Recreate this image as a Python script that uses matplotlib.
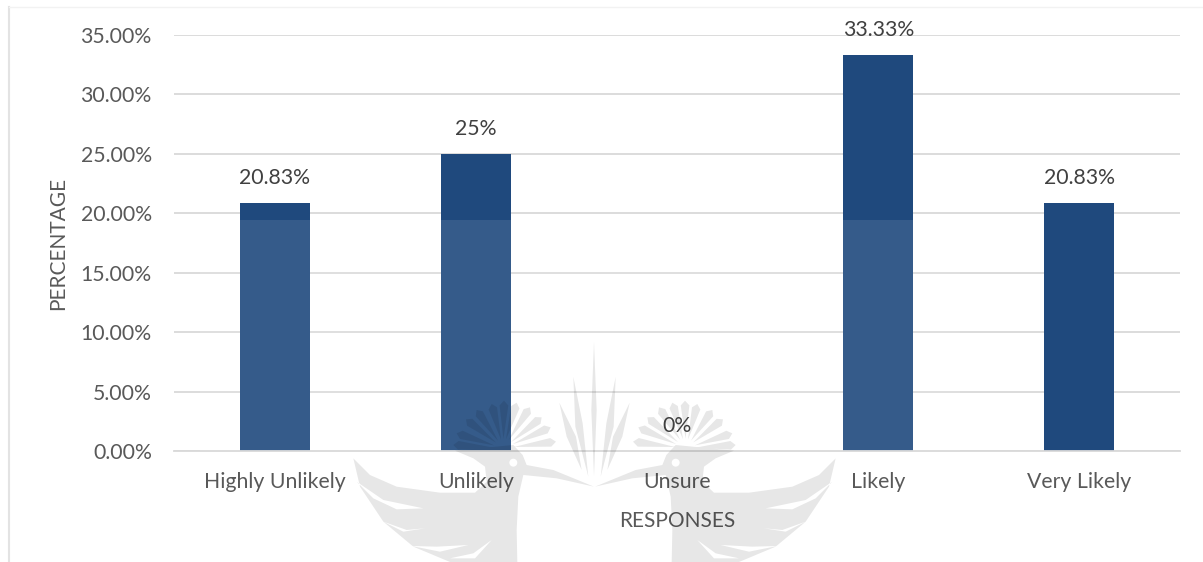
import matplotlib
matplotlib.use('Agg')
import matplotlib.pyplot as plt
from matplotlib.patches import Rectangle, PathPatch
from matplotlib.path import Path
from matplotlib.lines import Line2D
from matplotlib.transforms import Affine2D
import numpy as np

categories = ['Highly Unlikely', 'Unlikely', 'Unsure', 'Likely', 'Very Likely']
values = [20.83, 25, 0, 33.33, 20.83]
value_labels = ['20.83%', '25%', '0%', '33.33%', '20.83%']
y_ticks = [0, 5, 10, 15, 20, 25, 30, 35]

W, H = 1203, 562
plt.rcParams['font.family'] = ['Lato', 'DejaVu Sans']

fig = plt.figure(figsize=(W / 100, H / 100), dpi=100)
ax = fig.add_axes([174 / W, 1 - 451 / H, (1180 - 174) / W, (451 - 35) / H])

ax.bar(categories, values, width=0.348, color='#1f497d', zorder=2)
ax.set_xlim(-0.5, 4.5)
ax.set_ylim(0, 35)
ax.set_yticks(y_ticks)
ax.set_yticklabels(['%.2f%%' % t for t in y_ticks])
ax.grid(axis='y', color='#d9d9d9', lw=1.3, zorder=0)
ax.set_axisbelow(True)
for s in ['top', 'right', 'left']:
    ax.spines[s].set_visible(False)
ax.spines['bottom'].set_color('#d9d9d9')
ax.spines['bottom'].set_linewidth(1.3)
ax.tick_params(axis='both', length=0, labelsize=15.3, labelcolor='#595959')
ax.tick_params(axis='x', pad=15)
ax.tick_params(axis='y', pad=16)
ax.set_xlabel('RESPONSES', fontsize=15, color='#595959', labelpad=13.5)
ax.set_ylabel('PERCENTAGE', fontsize=15, color='#595959', labelpad=9)

for i, v in enumerate(values):
    ax.annotate(value_labels[i], (i, v), xytext=(0, 11), textcoords='offset points',
                ha='center', va='bottom', fontsize=15.3, color='#404040',
                annotation_clip=False, zorder=5)

# everything below is scan residue from the source page, in pixels
px = Affine2D().scale(1, -1).translate(0, H)

# paler band across the lower part of the bars
band = Rectangle((200, 220), 760, 231, fc='white', ec='none', alpha=0.1, zorder=3,
                 transform=px, clip_on=False)
ax.add_artist(band)

# frame of the chart object
fig.add_artist(Line2D([8.5, 8.5], [7, 562], transform=px, color='#e3e3e3', lw=1.5))
fig.add_artist(Line2D([8.5, 1203], [7, 7], transform=px, color='#f2f2f2', lw=1))

# watermark: two birds mirrored about the page centre
CX = 594.5
verts, codes = [], []

def add_poly(points, hole=False, mirror=True):
    pts = np.array([(340 + x / 3, 330 + y / 3) for x, y in points])
    for flip in ([False, True] if mirror else [False]):
        p = pts.copy()
        if flip:
            p[:, 0] = 2 * CX - p[:, 0]
        x, y = p[:, 0], p[:, 1]
        area = np.sum(x * np.roll(y, -1) - np.roll(x, -1) * y)
        if (area < 0) != hole:
            p = p[::-1]
        verts.extend(p.tolist())
        verts.append(p[0].tolist())
        codes.extend([Path.MOVETO] + [Path.LINETO] * (len(p) - 1) + [Path.CLOSEPOLY])

add_poly([(40, 385), (90, 435), (170, 470), (300, 488), (405, 488), (440, 455), (435, 410),
          (400, 385), (345, 362), (520, 345), (548, 375), (560, 405), (640, 420), (762, 470),
          (650, 445), (550, 435), (535, 500), (530, 600), (532, 696), (330, 696),
          (220, 650), (130, 575), (60, 470)])

# white slits between the wing feathers
add_poly([(50, 455), (130, 510), (250, 535), (170, 538), (100, 505)], hole=True)
add_poly([(130, 575), (200, 600), (255, 595), (190, 605)], hole=True)
add_poly([(215, 648), (290, 650), (385, 645), (300, 665)], hole=True)
add_poly([(330, 685), (400, 670), (455, 630), (405, 685)], hole=True)

# eye
t = np.linspace(0, 2 * np.pi, 16, endpoint=False)
add_poly(list(zip(520 + 12 * np.cos(t), 398 + 12 * np.sin(t))), hole=True)

crest_tips = [(340, 345), (350, 310), (378, 268), (410, 240), (455, 222), (492, 212),
              (530, 218), (570, 232), (605, 262), (632, 292), (648, 335)]
bx, by = 490, 355
for tx, ty in crest_tips:
    d = np.array([tx - bx, ty - by], dtype=float)
    n = np.array([-d[1], d[0]]) / np.hypot(*d)
    add_poly([(bx + 0.2 * d[0], by + 0.2 * d[1]),
              (tx + 13 * n[0] - 0.1 * d[0], ty + 13 * n[1] - 0.1 * d[1]),
              (tx, ty),
              (tx - 13 * n[0] - 0.1 * d[0], ty - 13 * n[1] - 0.1 * d[1])])

add_poly([(762, 440), (754, 240), (762, 35), (770, 240)], mirror=False)
add_poly([(745, 440), (706, 290), (700, 140), (728, 280)])
add_poly([(725, 420), (680, 320), (658, 218), (708, 320)])

watermark = PathPatch(Path(verts, codes), fc='black', ec='none', alpha=0.095, zorder=3.5,
                      transform=px, clip_on=False)
ax.add_artist(watermark)

fig.savefig('out.png', dpi=100)
